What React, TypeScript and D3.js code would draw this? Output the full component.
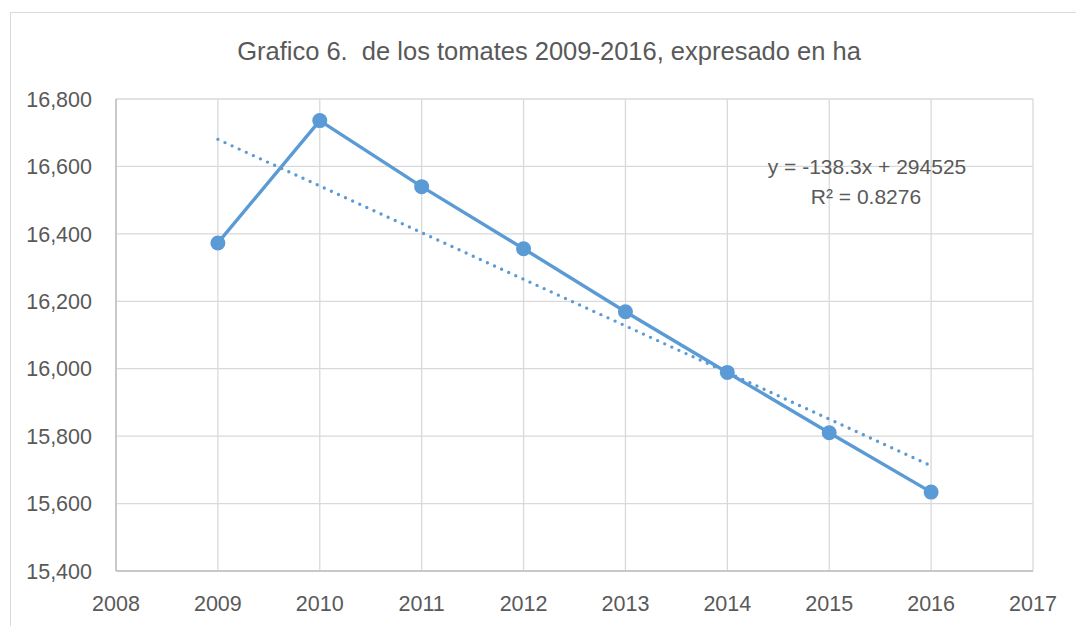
import React from "react";
import * as d3 from "d3";

const years = [2009, 2010, 2011, 2012, 2013, 2014, 2015, 2016];
const hectares = [16373, 16736, 16540, 16356, 16169, 15989, 15810, 15634];
const yTicks = [15400, 15600, 15800, 16000, 16200, 16400, 16600, 16800];
const xTicks = [2008, 2009, 2010, 2011, 2012, 2013, 2014, 2015, 2016, 2017];
const trendSlope = -138.3;
const trendIntercept = 294525;
const titleText = "Grafico 6.  de los tomates 2009-2016, expresado en ha";
const eqText = "y = -138.3x + 294525";
const r2Text = "R² = 0.8276";

const W = 1076;
const H = 626;
const plot = { left: 116, right: 1033, top: 99, bottom: 571 };
const blue = "#5B9BD5";
const textColor = "#595959";
const font = "'Liberation Sans', Arial, sans-serif";

export default function App() {
  const x = d3.scaleLinear().domain([2008, 2017]).range([plot.left, plot.right]);
  const y = d3.scaleLinear().domain([15400, 16800]).range([plot.bottom, plot.top]);
  const pts: [number, number][] = years.map((yr, i) => [yr, hectares[i]]);
  const line = d3
    .line<[number, number]>()
    .x((d) => x(d[0]))
    .y((d) => y(d[1]));
  const tx0 = years[0];
  const tx1 = years[years.length - 1];
  const trend: [number, number][] = [
    [tx0, trendSlope * tx0 + trendIntercept],
    [tx1, trendSlope * tx1 + trendIntercept],
  ];

  return (
    <svg
      width={W}
      height={H}
      style={{ position: "absolute", left: 0, top: 0, background: "#fff" }}
      fontFamily={font}
    >
      <rect x={10.5} y={12.5} width={W + 20} height={H + 20} fill="#fff" stroke="#D9D9D9" strokeWidth={1} />
      <text x={549} y={60} textAnchor="middle" fontSize={25.5} fill={textColor} style={{ whiteSpace: "pre" }}>
        {titleText}
      </text>
      {yTicks.map((t) => (
        <g key={"y" + t}>
          <line x1={plot.left} x2={plot.right} y1={y(t)} y2={y(t)} stroke="#D9D9D9" strokeWidth={1.3} />
          <text x={92} y={y(t)} dy="0.36em" textAnchor="end" fontSize={21.5} fill={textColor}>
            {d3.format(",")(t)}
          </text>
        </g>
      ))}
      {xTicks.map((t) => (
        <g key={"x" + t}>
          <line x1={x(t)} x2={x(t)} y1={plot.top} y2={plot.bottom} stroke="#D9D9D9" strokeWidth={1.3} />
          <text x={x(t)} y={611} textAnchor="middle" fontSize={21.5} fill={textColor}>
            {t}
          </text>
        </g>
      ))}
      <line x1={plot.left} x2={plot.left} y1={plot.top} y2={plot.bottom} stroke="#BFBFBF" strokeWidth={1.5} />
      <line x1={plot.left} x2={plot.right} y1={plot.bottom} y2={plot.bottom} stroke="#BFBFBF" strokeWidth={1.5} />
      <path d={line(pts) || ""} fill="none" stroke={blue} strokeWidth={3.4} strokeLinejoin="round" />
      <path
        d={line(trend) || ""}
        fill="none"
        stroke={blue}
        strokeWidth={3.4}
        strokeDasharray="0 7.8"
        strokeLinecap="round"
      />
      {pts.map((p, i) => (
        <circle key={i} cx={x(p[0])} cy={y(p[1])} r={7.5} fill={blue} />
      ))}
      <text x={867} y={174} textAnchor="middle" fontSize={21} fill={textColor}>
        {eqText}
      </text>
      <text x={866} y={204} textAnchor="middle" fontSize={21} fill={textColor}>
        {r2Text}
      </text>
    </svg>
  );
}
